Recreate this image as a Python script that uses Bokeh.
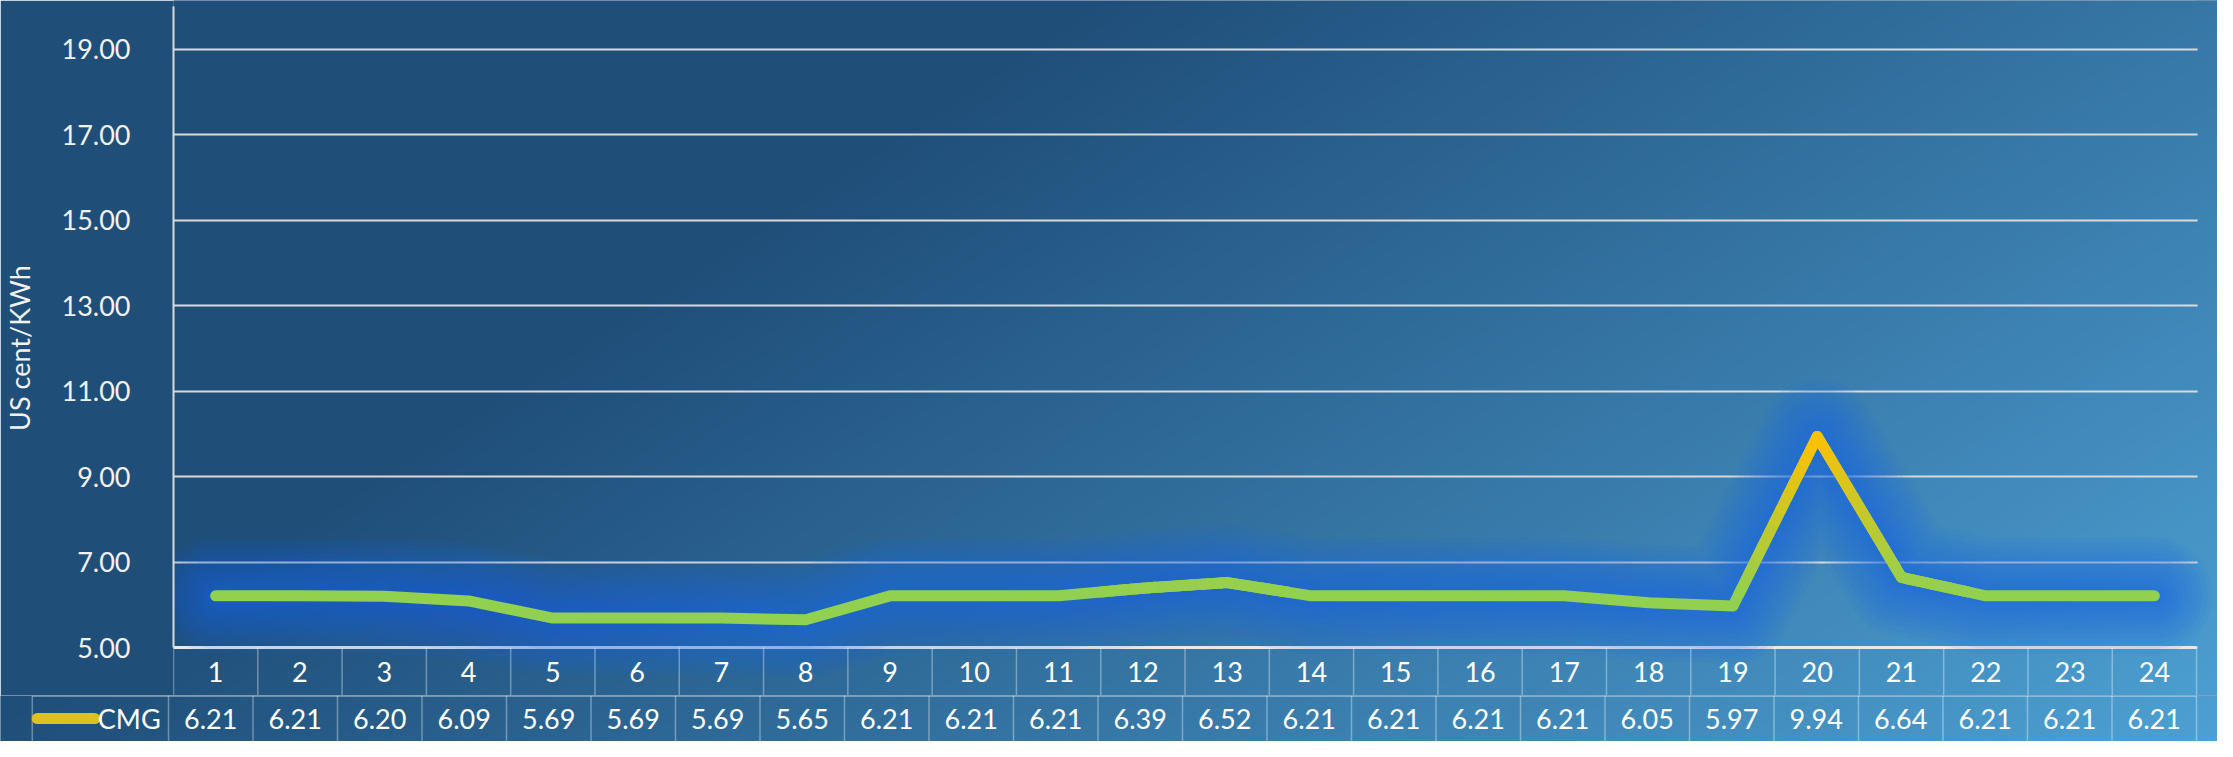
import numpy as np
from bokeh.plotting import figure
from bokeh.layouts import column
from bokeh.models import Range1d, FixedTicker, NumeralTickFormatter
from bokeh.core.properties import value
from bokeh.embed import file_html
from bokeh.resources import INLINE

# ---------------- data ----------------
hours = list(range(1, 25))
hour_labels = [str(h) for h in hours]
cmg = [6.21, 6.21, 6.20, 6.09, 5.69, 5.69, 5.69, 5.65, 6.21, 6.21, 6.21, 6.39,
       6.52, 6.21, 6.21, 6.21, 6.21, 6.05, 5.97, 9.94, 6.64, 6.21, 6.21, 6.21]
cmg_labels = [f"{v:.2f}" for v in cmg]
y_ticks = [5, 7, 9, 11, 13, 15, 17, 19]
series_name = "CMG"
y_title = "US cent/KWh"

# ---------------- style / layout ----------------
FONT = value("Lato")
FS = value("27px")
WHITE = "#FFFFFF"
DARK = np.array([31, 78, 121], dtype=float)
LIGHT = np.array([77, 160, 211], dtype=float)
GREEN = np.array([146, 208, 80], dtype=float)
GOLD = np.array([255, 192, 0], dtype=float)

W, H = 2217, 741
SX, SY = W / 2233, H / 757
FRAME_L = round(169 * SX)
FRAME_R = round(2212 * SX)
TOP_H = round(710 * SY)
BOT_H = H - TOP_H
PXU = 43.64 * SY
Y5 = 661 * SY
Y_END = 5 + Y5 / PXU
Y_START = 5 - (TOP_H - Y5) / PXU
COL_W = (FRAME_R - FRAME_L) / len(hours)
X_LO, X_HI = hours[0] - 0.5, hours[-1] + 0.5
XL = X_LO - FRAME_L / COL_W          # data x at the left page edge
XR = X_HI + (W - FRAME_R) / COL_W    # data x at the right page edge


def gradient(x0, x1, y0, y1, step=3):
    nx = max(2, int((x1 - x0) / step))
    ny = max(2, int((y1 - y0) / step))
    xs = np.linspace(x0, x1, nx) / SX
    ys = np.linspace(y1, y0, ny) / SY
    X, Y = np.meshgrid(xs, ys)
    s = np.clip((X + 1.5 * Y - 1100) / 2270, 0, 1)[..., None]
    rgb = DARK + (LIGHT - DARK) * s
    img = np.empty((ny, nx), dtype=np.uint32)
    v = img.view(dtype=np.uint8).reshape((ny, nx, 4))
    v[..., :3] = np.round(rgb).astype(np.uint8)
    v[..., 3] = 255
    return img


def hexcol(c):
    c = np.clip(np.round(c), 0, 255).astype(int)
    return "#%02x%02x%02x" % tuple(c)


def no_align(fig):
    try:
        fig.frame_align = False
    except Exception:
        pass


# ---------------- top figure: chart + hour row ----------------
p = figure(width=W, height=TOP_H,
           x_range=Range1d(X_LO, XR), y_range=Range1d(Y_START, Y_END),
           output_backend="svg", toolbar_location=None, x_axis_location=None,
           min_border_left=FRAME_L, min_border_right=0,
           min_border_top=0, min_border_bottom=0,
           background_fill_color="#1F4E79", border_fill_color="#1F4E79",
           outline_line_color=None)
no_align(p)

p.image_rgba(image=[gradient(FRAME_L, W, 0, TOP_H)], x=X_LO, y=Y_START,
             dw=XR - X_LO, dh=Y_END - Y_START, level="image")

ax = p.yaxis[0]
ax.ticker = FixedTicker(ticks=y_ticks)
ax.formatter = NumeralTickFormatter(format="0.00")
ax.bounds = (5, 20)
ax.axis_line_color = "#D9D9D9"
ax.axis_line_width = 2
ax.major_tick_line_color = None
ax.minor_tick_line_color = None
ax.major_label_standoff = 37
ax.major_label_text_font = "Lato"
ax.major_label_text_font_size = "27px"
ax.major_label_text_color = "#F2F2F2"
ax.axis_label = y_title
ax.axis_label_standoff = 22
ax.axis_label_text_font = "Lato"
ax.axis_label_text_font_size = "27px"
ax.axis_label_text_font_style = "normal"
ax.axis_label_text_color = "#F2F2F2"

p.ygrid.ticker = FixedTicker(ticks=y_ticks)
p.ygrid.grid_line_color = "#D9D9D9"
p.ygrid.grid_line_width = 2
p.xgrid.visible = False

# background patch right of the plot area (hides grid line ends)
p.image_rgba(image=[gradient(FRAME_R + 1, W, 0, TOP_H)], x=X_HI + 1 / COL_W, y=Y_START,
             dw=XR - X_HI - 1 / COL_W, dh=Y_END - Y_START, level="glyph")

# horizontal axis line at the bottom of the plot area
p.segment(x0=[X_LO], y0=[y_ticks[0]], x1=[X_HI], y1=[y_ticks[0]],
          line_color="#E8E8E8", line_width=3)

# soft glow under the series line
for w in [116, 106, 96, 86, 76, 66, 56, 46, 38, 30, 22, 16]:
    p.line(hours, cmg, line_width=w, line_color="#1E6BE0", line_alpha=0.08,
           line_join="round", line_cap="round")

# main line
p.line(hours, cmg, line_width=11, line_color=hexcol(GREEN),
       line_join="round", line_cap="round")

# vertical colour gradient (green -> gold) along the line
G_LOW, G_HIGH = 6.3, max(cmg)
sx0, sy0, sx1, sy1, scol = [], [], [], [], []
N = 14
for i in range(len(hours) - 1):
    xa, ya, xb, yb = hours[i], cmg[i], hours[i + 1], cmg[i + 1]
    if max(ya, yb) <= G_LOW:
        continue
    for k in range(N):
        t0, t1 = k / N, (k + 1) / N
        ym = ya + (yb - ya) * (t0 + t1) / 2
        f = np.clip((ym - G_LOW) / (G_HIGH - G_LOW), 0, 1)
        if f <= 0:
            continue
        sx0.append(xa + (xb - xa) * t0); sy0.append(ya + (yb - ya) * t0)
        sx1.append(xa + (xb - xa) * t1); sy1.append(ya + (yb - ya) * t1)
        scol.append(hexcol(GREEN + (GOLD - GREEN) * f))
p.segment(x0=sx0, y0=sy0, x1=sx1, y1=sy1, line_color=scol, line_width=11,
          line_cap="round")

# hour row of the data table
edges = [h + 0.5 for h in [hours[0] - 1] + hours]
p.segment(x0=edges, y0=[Y_START] * len(edges), x1=edges, y1=[5] * len(edges),
          line_color=WHITE, line_alpha=0.35, line_width=1.5)
p.text(x=hours, y=[(Y_START + 5) / 2] * len(hours), text=hour_labels,
       text_align="center", text_baseline="middle", text_color=WHITE,
       text_font=FONT, text_font_size=FS)

# ---------------- bottom figure: value row ----------------
q = figure(width=W, height=BOT_H, x_range=Range1d(XL, XR), y_range=Range1d(0, 1),
           output_backend="svg", toolbar_location=None,
           x_axis_location=None, y_axis_location=None,
           min_border_left=0, min_border_right=0, min_border_top=0, min_border_bottom=0,
           background_fill_color="#1F4E79", border_fill_color="#1F4E79",
           outline_line_color=None)
no_align(q)
q.xgrid.visible = False
q.ygrid.visible = False
q.image_rgba(image=[gradient(0, W, TOP_H, H)], x=XL, y=0, dw=XR - XL, dh=1, level="image")

CELL_L = XL + 32 * SX / COL_W
vx = [CELL_L] + edges
q.segment(x0=vx, y0=[0] * len(vx), x1=vx, y1=[1] * len(vx),
          line_color=WHITE, line_alpha=0.35, line_width=1.5)
yh = 1 - 0.8 / BOT_H
q.segment(x0=[CELL_L], y0=[yh], x1=[X_HI], y1=[yh],
          line_color=WHITE, line_alpha=0.35, line_width=1.5)

q.segment(x0=[XL + 37 * SX / COL_W], y0=[0.5], x1=[XL + 95 * SX / COL_W], y1=[0.5],
          line_color="#DCC31C", line_width=11, line_cap="round")
q.text(x=[XL + 98 * SX / COL_W], y=[0.5], text=[series_name],
       text_align="left", text_baseline="middle", text_color=WHITE,
       text_font=FONT, text_font_size=FS)
q.text(x=hours, y=[0.5] * len(hours), text=cmg_labels,
       text_align="center", text_baseline="middle", text_color=WHITE,
       text_font=FONT, text_font_size=FS)

layout = column(p, q, spacing=0)
open("out.html", "w").write(file_html(layout, INLINE))
